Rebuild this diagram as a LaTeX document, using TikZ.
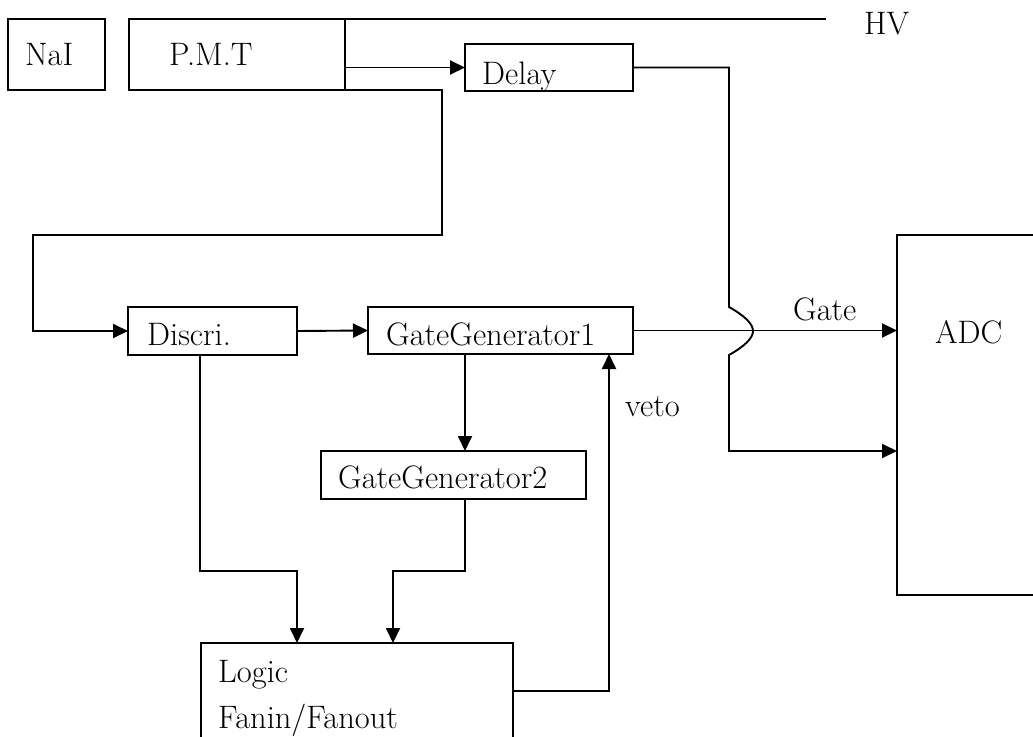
\documentclass[tikz,border=0pt]{standalone}
\usetikzlibrary{arrows.meta}
\begin{document}
\begin{tikzpicture}[x=1pt,y=-1pt,
  box/.style={draw, line width=1.9pt, inner sep=0pt, outer sep=0pt},
  txt/.style={anchor=base west, inner sep=0pt, font=\fontsize{32.5pt}{38pt}\selectfont},
  wire/.style={line width=1.9pt},
  arr/.style={line width=1.9pt, -{Triangle[length=15pt,width=14pt]}}
]
\useasboundingbox (0,0) rectangle (1033,736);
\clip (0,0) rectangle (1033,736);

% boxes
\node[box, minimum width=97pt,  minimum height=71pt]  (nai)    at (56.5,54.5) {};
\node[box, minimum width=216pt, minimum height=71pt]  (pmt)    at (237,54.5) {};
\node[box, minimum width=168pt, minimum height=47pt]  (delay)  at (549,67.5) {};
\node[box, minimum width=169pt, minimum height=48pt]  (discri) at (212.5,331) {};
\node[box, minimum width=265pt, minimum height=47pt]  (gg1)    at (500.5,330.5) {};
\node[box, minimum width=265pt, minimum height=48pt]  (gg2)    at (453.5,475) {};
\node[box, minimum width=312pt, minimum height=114pt] (logic)  at (357,700) {};
\node[box, minimum width=164pt, minimum height=360pt] (adc)    at (979,415) {};

% texts
\node[txt] (tnai)    at (25,65)   {NaI};
\node[txt] (tpmt)    at (169,65)  {P.M.T};
\node[txt] (tdelay)  at (482,84)  {Delay};
\node[txt] (thv)     at (864,34)  {HV};
\node[txt] (tdiscri) at (147,345) {Discri.};
\node[txt] (tgg1)    at (386,345) {GateGenerator1};
\node[txt] (tgg2)    at (338,488) {GateGenerator2};
\node[txt] (tgate)   at (793,320) {Gate};
\node[txt] (tadc)    at (935,343) {ADC};
\node[txt] (tveto)   at (625,416) {veto};
\node[txt] (tlogic)  at (218,682) {Logic};
\node[txt] (tfan)    at (218,728) {Fanin/Fanout};

% coordinates
\coordinate (hvend)    at (826,19);
\coordinate (adcin2)   at (897,451);
\coordinate (logicout) at (513,691);
\coordinate (vetoin)   at (609,354);
\coordinate (lgin1)    at (297,643);
\coordinate (lgin2)    at (393,643);
\coordinate (discout)  at (200,355);
\coordinate (gg1out)   at (465,354);
\coordinate (gg2in)    at (465,451);
\coordinate (gg2out)   at (465,499);

% connectors
\draw[wire] (pmt.north east) -- (hvend);
\draw[arr] (pmt.east |- delay.west) -- (delay.west);
\draw[arr] (pmt.south east) -- (442,90) -- (442,235) -- (33,235) -- (33,331) -- (discri.west);
\draw[arr] (discri.east) -- (gg1.west);
\draw[arr] (gg1.east) -- (adc.west |- gg1.east);
\draw[arr] (delay.east) -- (729,67.5) -- (729,307)
  .. controls (745,316) and (753,324) .. (753,331)
  .. controls (753,338) and (745,346) .. (729,355)
  -- (729,451) -- (adcin2);
\draw[arr] (gg1out) -- (gg2in);
\draw[arr] (discout) -- (200,571) -- (297,571) -- (lgin1);
\draw[arr] (gg2out) -- (465,571) -- (393,571) -- (lgin2);
\draw[arr] (logicout) -- (609,691) -- (vetoin);
\end{tikzpicture}
\end{document}
